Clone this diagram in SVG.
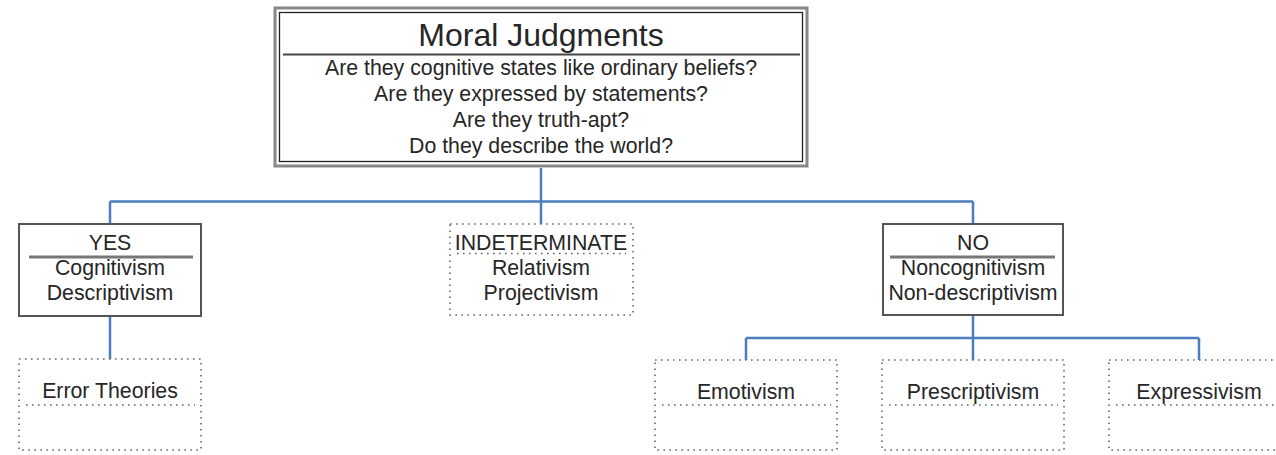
<svg xmlns="http://www.w3.org/2000/svg" width="1276" height="455" viewBox="0 0 1276 455">
  <style>
    text { font-family: "Liberation Sans", Arial, sans-serif; fill: #262626; text-anchor: middle; }
    .title { font-size: 32px; }
    .t { font-size: 21.3px; }
    .solid { fill: #fff; stroke: #555; stroke-width: 2; }
    .sep { stroke: #777; stroke-width: 3; }
    .dot { fill: none; stroke: #666; stroke-width: 1.6; stroke-dasharray: 1.6 4.4; }
    .conn { fill: none; stroke: #4a7ebf; stroke-width: 2.5; }
  </style>
  <rect width="1276" height="455" fill="#fff"/>

  <g id="connectors">
    <path class="conn" d="M541,168 V201.5 M110,201.5 H973 M110,201.5 V224 M541,201.5 V224 M973,201.5 V224"/>
    <path class="conn" d="M110,316 V359"/>
    <path class="conn" d="M973,315 V338 M746,338 H1199 M746,338 V360 M973,338 V360 M1199,338 V360"/>
  </g>

  <g id="moral-judgments">
    <rect x="275" y="8" width="532" height="158" fill="#fff" stroke="#888" stroke-width="3"/>
    <rect x="279.5" y="12.5" width="523" height="149" fill="none" stroke="#222" stroke-width="1.3"/>
    <line x1="283" y1="54.5" x2="800" y2="54.5" stroke="#444" stroke-width="2"/>
    <text class="title" x="541" y="46">Moral Judgments</text>
    <text class="t" x="541" y="75">Are they cognitive states like ordinary beliefs?</text>
    <text class="t" x="541" y="101">Are they expressed by statements?</text>
    <text class="t" x="541" y="127">Are they truth-apt?</text>
    <text class="t" x="541" y="153">Do they describe the world?</text>
  </g>

  <g id="yes">
    <rect class="solid" x="19" y="224" width="182" height="92"/>
    <line class="sep" x1="29" y1="257" x2="193" y2="257"/>
    <text class="t" x="110" y="250">YES</text>
    <text class="t" x="110" y="275">Cognitivism</text>
    <text class="t" x="110" y="300">Descriptivism</text>
  </g>

  <g id="indeterminate">
    <rect class="dot" x="450" y="224" width="183" height="91"/>
    <line class="dot" x1="457" y1="253.5" x2="626" y2="253.5"/>
    <text class="t" x="541" y="250">INDETERMINATE</text>
    <text class="t" x="541" y="275">Relativism</text>
    <text class="t" x="541" y="300">Projectivism</text>
  </g>

  <g id="no">
    <rect class="solid" x="883" y="224" width="180" height="91"/>
    <line class="sep" x1="890" y1="257" x2="1055" y2="257"/>
    <text class="t" x="973" y="250">NO</text>
    <text class="t" x="973" y="275">Noncognitivism</text>
    <text class="t" x="973" y="300">Non-descriptivism</text>
  </g>

  <g id="error-theories">
    <rect class="dot" x="19" y="359" width="182" height="91"/>
    <line class="dot" x1="26" y1="405" x2="195" y2="405"/>
    <text class="t" x="110" y="398">Error Theories</text>
  </g>

  <g id="emotivism">
    <rect class="dot" x="655" y="360" width="182" height="90"/>
    <line class="dot" x1="662" y1="405" x2="831" y2="405"/>
    <text class="t" x="746" y="399">Emotivism</text>
  </g>

  <g id="prescriptivism">
    <rect class="dot" x="882" y="360" width="182" height="90"/>
    <line class="dot" x1="889" y1="405" x2="1058" y2="405"/>
    <text class="t" x="973" y="399">Prescriptivism</text>
  </g>

  <g id="expressivism">
    <rect class="dot" x="1109" y="360" width="182" height="90"/>
    <line class="dot" x1="1116" y1="405" x2="1285" y2="405"/>
    <text class="t" x="1199" y="399">Expressivism</text>
  </g>
</svg>
